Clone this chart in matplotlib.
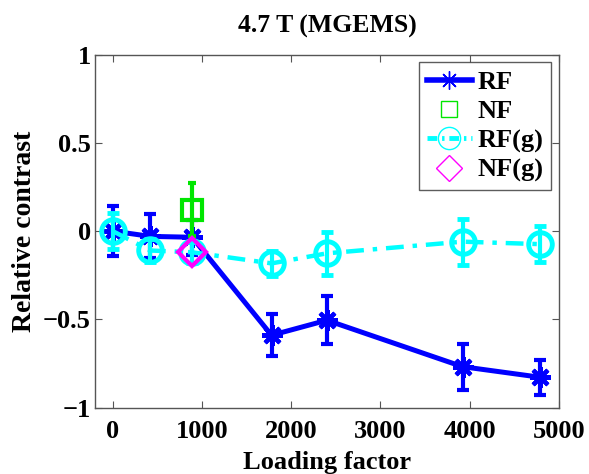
import matplotlib

matplotlib.use("Agg")
import matplotlib.pyplot as plt
from matplotlib.lines import Line2D

plt.rcParams["font.family"] = ["Liberation Serif", "DejaVu Serif"]
plt.rcParams["font.weight"] = "bold"

# loading factor (x) and relative contrast (y)
rf_x = [0, 420, 890, 1780, 2400, 3920, 4790]
rf_y = [0.0, -0.03, -0.035, -0.59, -0.505, -0.768, -0.828]
rf_err = [0.14, 0.125, 0.1, 0.12, 0.135, 0.13, 0.1]

rfg_x = [0, 420, 890, 1780, 2400, 3920, 4790]
rfg_y = [0.0, -0.11, -0.12, -0.183, -0.126, -0.06, -0.074]
rfg_err = [0.1, 0.065, 0.06, 0.07, 0.12, 0.13, 0.1]

nf_x = [890]
nf_y = [0.12]
nf_err = [0.15]

nfg_x = [890]
nfg_y = [-0.117]

BLUE = "#0000ff"
CYAN = "#00ffff"
GREEN = "#00e600"
MAGENTA = "#ff00ff"

fig = plt.figure(figsize=(5.89, 4.74), dpi=100)
ax = fig.add_axes([0.161, 0.140, 0.788, 0.745])

ax.errorbar(rf_x, rf_y, yerr=rf_err, color=BLUE, lw=3.6, marker=(8, 2, 0),
            ms=15, mew=3, capsize=4, capthick=3, elinewidth=3, zorder=3)
ax.errorbar(nf_x, nf_y, yerr=nf_err, color=GREEN, lw=0, marker="s", ms=14,
            mfc="none", mew=3, capsize=3, capthick=3, elinewidth=3, zorder=4)
ax.errorbar(rfg_x, rfg_y, yerr=rfg_err, color=CYAN, lw=3.2, ls=(0, (4, 2, 1, 2)),
            marker="o", ms=17, mfc="none", mew=3.5, capsize=4, capthick=3,
            elinewidth=3, zorder=5)
ax.plot(nfg_x, nfg_y, color=MAGENTA, lw=0, marker="D", ms=14, mfc="none",
        mew=3, zorder=6)

ax.set_xlim(-200, 5000)
ax.set_ylim(-1, 1)
ax.set_xticks([0, 1000, 2000, 3000, 4000, 5000])
ax.set_yticks([-1, -0.5, 0, 0.5, 1])
ax.set_yticklabels(["\u22121", "\u22120.5", "0", "0.5", "1"])
ax.tick_params(direction="in", top=True, right=True, labelsize=19, length=5,
               width=0.8, colors="#555555", labelcolor="black")
ax.tick_params(axis="x", pad=9)
ax.tick_params(axis="y", pad=3)
for sp in ax.spines.values():
    sp.set_color("#555555")
    sp.set_linewidth(1.0)

ax.set_title("4.7 T (MGEMS)", fontsize=18.5, fontweight="bold", pad=16)
ax.set_xlabel("Loading factor", fontsize=19, fontweight="bold", labelpad=6)
ax.set_ylabel("Relative contrast", fontsize=20, fontweight="bold", labelpad=4)

handles = [
    Line2D([], [], color=BLUE, lw=4, marker=(8, 2, 0), ms=13, mew=1),
    Line2D([], [], color=GREEN, lw=0, marker="s", ms=12, mfc="none", mew=1),
    Line2D([], [], color=CYAN, lw=3.5, ls=(0, (2, 1, 0.5, 1)), marker="o",
           ms=16, mfc="none", mew=1),
    Line2D([], [], color=MAGENTA, lw=0, marker="D", ms=13, mfc="none", mew=1),
]
leg = ax.legend(handles, ["RF", "NF", "RF(g)", "NF(g)"], loc="upper right",
                fontsize=19, frameon=True, fancybox=False, handlelength=1.7,
                handletextpad=0.2, borderpad=0.3, labelspacing=0.22,
                borderaxespad=0.3)
leg.get_frame().set_edgecolor("#333333")
leg.get_frame().set_linewidth(1.0)
for t in leg.get_texts():
    t.set_fontweight("bold")

fig.savefig("out.png", dpi=100)
